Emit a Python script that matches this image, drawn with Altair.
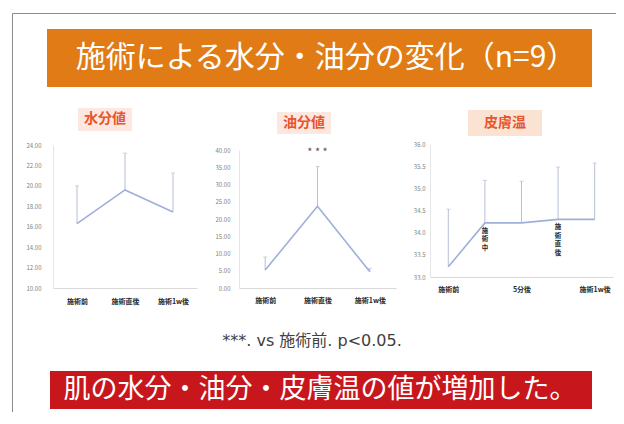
import altair as alt
import pandas as pd

W, H = 608, 404
M = 8
FONT = "Noto Sans CJK JP"
NOTE_FONT = "DejaVu Sans, Noto Sans CJK JP"

# ---------------- data ----------------
water_cats = ["施術前", "施術直後", "施術1w後"]
water_mean = [16.3, 19.6, 17.45]
water_top = [20.0, 23.2, 21.25]
water_ticks = [10, 12, 14, 16, 18, 20, 22, 24]

oil_cats = ["施術前", "施術直後", "施術1w後"]
oil_mean = [5.2, 23.7, 4.7]
oil_top = [9.0, 35.2, 5.7]
oil_ticks = [0, 5, 10, 15, 20, 25, 30, 35, 40]
oil_sig_cats = ["施術直後"]
oil_sig_top = [35.2]

temp_cats = ["施術前", "施術中", "5分後", "施術直後", "施術1w後"]
temp_mean = [33.23, 34.22, 34.22, 34.3, 34.3]
temp_top = [34.53, 35.18, 35.16, 35.48, 35.57]
temp_ticks = [33.0, 33.5, 34.0, 34.5, 35.0, 35.5, 36.0]
temp_vertical_cats = ["施術中", "施術直後"]

title_text = "施術による水分・油分の変化（n=9）"
panel_titles = ["水分値", "油分値", "皮膚温"]
note_text = "***. vs 施術前. p<0.05."
conclusion_text = "肌の水分・油分・皮膚温の値が増加した。"

LINE_C = "#9fb0d8"
ERR_C = "#b8bfd6"


def P(v):
    return v - M


def panel(cats, mean, top, ticks, fmt, x_span, y_span, ypad, xpad,
          hide=(), star=None, vertical=()):
    df = pd.DataFrame({"cat": cats, "mean": mean, "top": top,
                       "i": list(range(len(cats)))})
    x0, x1 = x_span
    yb, yt = y_span
    xscale = alt.Scale(type="point", domain=cats, range=[P(x0), P(x1)], padding=0.5)
    yscale = alt.Scale(domain=[ticks[0], ticks[-1]], range=[P(yb), P(yt)],
                       nice=False, zero=False)
    label_expr = "datum.label"
    if hide:
        arr = ",".join("'%s'" % h for h in hide)
        label_expr = "indexof([%s], datum.label) >= 0 ? '' : datum.label" % arr
    xaxis = alt.Axis(orient="bottom", offset=-(H - P(yb)), title=None, labelAngle=0,
                     ticks=False, grid=False, domainColor="#d9d9d9",
                     labelFont=FONT, labelFontSize=7, labelFontWeight="bold",
                     labelColor="#262626", labelPadding=xpad, labelExpr=label_expr)
    yaxis = alt.Axis(orient="left", offset=-P(x0), values=ticks, format=fmt, title=None,
                     ticks=False, grid=False, domainColor="#e6e6e6",
                     labelFont=FONT, labelFontSize=6, labelColor="#7f7f7f",
                     labelPadding=ypad)
    X = alt.X("cat:N", scale=xscale, axis=xaxis, sort=cats)
    base = alt.Chart(df)
    err = base.mark_rule(color=ERR_C, strokeWidth=1).encode(
        x=X, y=alt.Y("mean:Q", scale=yscale, axis=yaxis), y2="top:Q")
    cap = base.mark_tick(color=ERR_C, size=4, thickness=1).encode(
        x=X, y=alt.Y("top:Q", scale=yscale, axis=yaxis))
    line = base.mark_line(color=LINE_C, strokeWidth=1.6).encode(
        x=X, y=alt.Y("mean:Q", scale=yscale, axis=yaxis), order="i:Q")
    layers = [err, cap, line]
    if star is not None:
        sc, st = star
        sdf = pd.DataFrame({"cat": sc, "top": st})
        layers.append(alt.Chart(sdf).mark_text(
            text="* * *", font=FONT, fontSize=11, color="#555555", dy=-14,
            baseline="middle").encode(x=X, y=alt.Y("top:Q", scale=yscale, axis=yaxis)))
    if vertical:
        vdf = df[df["cat"].isin(vertical)].copy()
        vdf["stack"] = ["\n".join(c) for c in vdf["cat"]]
        layers.append(alt.Chart(vdf).mark_text(
            font=FONT, fontSize=6.5, fontWeight="bold", color="#262626",
            baseline="top", lineBreak="\n", lineHeight=8.5, dy=5).encode(
            x=X, y=alt.Y("mean:Q", scale=yscale, axis=yaxis), text="stack:N"))
    return alt.layer(*layers)


one = pd.DataFrame({"k": [0]})


def rect(x0, x1, y0, y1, color, **kw):
    return alt.Chart(one).mark_rect(color=color, **kw).encode(
        x=alt.value(P(x0)), x2=alt.value(P(x1)), y=alt.value(P(y0)), y2=alt.value(P(y1)))


def rule(x0, x1, y0, y1, color="#8c8c8c"):
    return alt.Chart(one).mark_rule(color=color, strokeWidth=1).encode(
        x=alt.value(P(x0)), x2=alt.value(P(x1)), y=alt.value(P(y0)), y2=alt.value(P(y1)))


def text(s, x, y, font=FONT, **kw):
    return alt.Chart(one).mark_text(text=s, font=font, baseline="middle",
                                    align="center", **kw).encode(
        x=alt.value(P(x)), y=alt.value(P(y)))


deco = [
    rule(12.5, 620.5, 13.5, 13.5),
    rule(12.5, 12.5, 13.5, H + M),
    rule(620.5, 620.5, 13.5, H + M),
    rect(47, 592, 29, 87, "#e07b16"),
    text(title_text, 326, 58, fontSize=30, color="white"),
    rect(78, 132, 108, 131, "#fde6de", opacity=0.9),
    text(panel_titles[0], 105, 119, fontSize=14, fontWeight="bold", color="#e8542c"),
    rect(277, 331, 112, 134, "#fde6de", opacity=0.9),
    text(panel_titles[1], 304, 123, fontSize=14, fontWeight="bold", color="#e8542c"),
    rect(468, 542, 110, 136, "#fbe3d3"),
    text(panel_titles[2], 505, 123, fontSize=14, fontWeight="bold", color="#e8542c"),
    text(note_text, 312, 341, font=NOTE_FONT, fontSize=16, color="#404040"),
    rect(50, 592, 371, 409, "#c8161d"),
    text(conclusion_text, 320, 390, fontSize=27, color="white"),
]

p1 = panel(water_cats, water_mean, water_top, water_ticks, ".2f",
           (53, 197), (288, 145), ypad=12, xpad=9)
p2 = panel(oil_cats, oil_mean, oil_top, oil_ticks, ".2f",
           (239, 396), (288, 150), ypad=9, xpad=8, star=(oil_sig_cats, oil_sig_top))
p3 = panel(temp_cats, temp_mean, temp_top, temp_ticks, ".1f",
           (430, 613), (277, 144), ypad=5, xpad=8,
           hide=temp_vertical_cats, vertical=temp_vertical_cats)

chart = alt.layer(*deco, p1, p2, p3).resolve_scale(
    x="independent", y="independent"
).properties(
    width=W, height=H, padding=0,
    autosize=alt.AutoSizeParams(type="none"),
    background="white",
).configure_view(stroke=None)

chart.save("out.html", embed_options={"renderer": "svg", "actions": False})
